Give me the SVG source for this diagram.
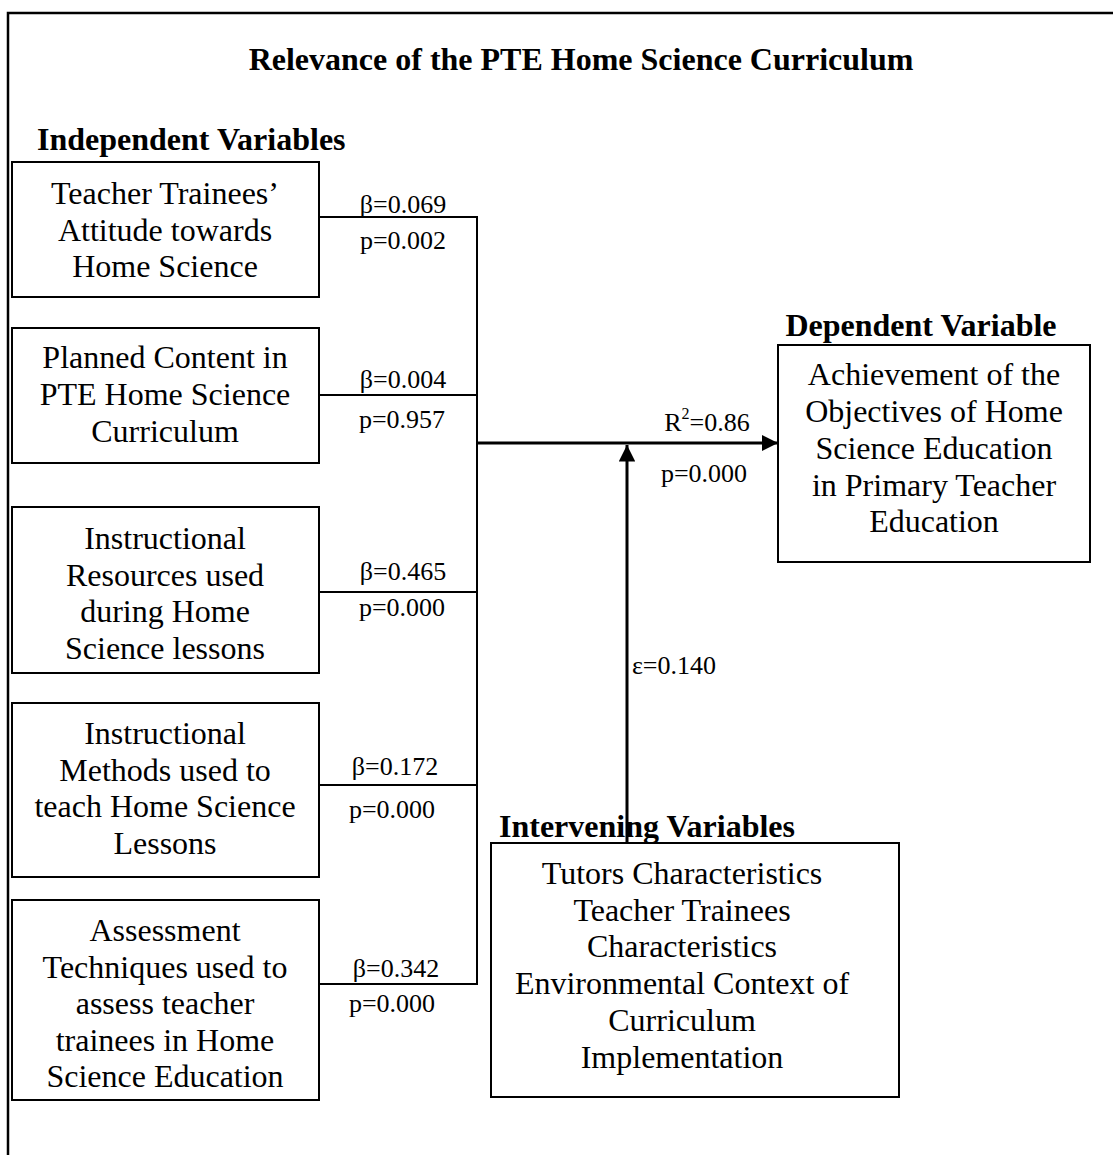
<svg xmlns="http://www.w3.org/2000/svg" width="1113" height="1155" viewBox="0 0 1113 1155">
<defs>
<style>
.box{fill:#fff;stroke:#000;stroke-width:2}
.t{font-family:"Liberation Serif","Times New Roman",serif;font-size:32px;fill:#000;text-anchor:middle}
.h{font-family:"Liberation Serif","Times New Roman",serif;font-size:32px;font-weight:bold;fill:#000}
.l{font-family:"Liberation Serif","Times New Roman",serif;font-size:26px;fill:#000;text-anchor:middle}
.c{fill:none;stroke:#000;stroke-width:2}
.a{fill:none;stroke:#000;stroke-width:3}
</style>
<marker id="arr" viewBox="0 0 10 10" refX="10" refY="5" markerWidth="5.5" markerHeight="5.5" orient="auto" markerUnits="strokeWidth">
<path d="M0,0 L10,5 L0,10 z" fill="#000"/>
</marker>
</defs>
<rect width="1113" height="1155" fill="#fff"/>
<g id="frame">
<polyline points="8,1155 8,13 1113,13" fill="none" stroke="#000" stroke-width="2.5"/>
</g>
<text class="h" x="581" y="70" text-anchor="middle">Relevance of the PTE Home Science Curriculum</text>
<text class="h" x="37" y="150">Independent Variables</text>
<text class="h" x="921" y="336" text-anchor="middle">Dependent Variable</text>

<g id="connectors">
<line class="c" x1="319" y1="217" x2="478" y2="217"/>
<line class="c" x1="319" y1="395" x2="478" y2="395"/>
<line class="c" x1="319" y1="592" x2="478" y2="592"/>
<line class="c" x1="319" y1="785" x2="478" y2="785"/>
<line class="c" x1="319" y1="984" x2="478" y2="984"/>
<line class="c" x1="477" y1="216" x2="477" y2="985"/>
<line class="a" x1="477" y1="443" x2="778" y2="443" marker-end="url(#arr)"/>
<line class="a" x1="627" y1="843" x2="627" y2="445" marker-end="url(#arr)"/>
<text class="l" x="403" y="213">β=0.069</text>
<text class="l" x="403" y="249">p=0.002</text>
<text class="l" x="403" y="388">β=0.004</text>
<text class="l" x="402" y="428">p=0.957</text>
<text class="l" x="403" y="580">β=0.465</text>
<text class="l" x="402" y="616">p=0.000</text>
<text class="l" x="395" y="775">β=0.172</text>
<text class="l" x="392" y="818">p=0.000</text>
<text class="l" x="396" y="977">β=0.342</text>
<text class="l" x="392" y="1012">p=0.000</text>
<text class="l" x="707" y="431">R<tspan font-size="16" dy="-12">2</tspan><tspan dy="12">=0.86</tspan></text>
<text class="l" x="704" y="482">p=0.000</text>
<text class="l" x="674" y="674">ε=0.140</text>
</g>

<g id="n1">
<rect class="box" x="12" y="162" width="307" height="135"/>
<text class="t" x="165" y="204">Teacher Trainees’</text>
<text class="t" x="165" y="241">Attitude towards</text>
<text class="t" x="165" y="277">Home Science</text>
</g>
<g id="n2">
<rect class="box" x="12" y="328" width="307" height="135"/>
<text class="t" x="165" y="368">Planned Content in</text>
<text class="t" x="165" y="405">PTE Home Science</text>
<text class="t" x="165" y="442">Curriculum</text>
</g>
<g id="n3">
<rect class="box" x="12" y="507" width="307" height="166"/>
<text class="t" x="165" y="549">Instructional</text>
<text class="t" x="165" y="586">Resources used</text>
<text class="t" x="165" y="622">during Home</text>
<text class="t" x="165" y="659">Science lessons</text>
</g>
<g id="n4">
<rect class="box" x="12" y="703" width="307" height="174"/>
<text class="t" x="165" y="744">Instructional</text>
<text class="t" x="165" y="781">Methods used to</text>
<text class="t" x="165" y="817">teach Home Science</text>
<text class="t" x="165" y="854">Lessons</text>
</g>
<g id="n5">
<rect class="box" x="12" y="900" width="307" height="200"/>
<text class="t" x="165" y="941">Assessment</text>
<text class="t" x="165" y="978">Techniques used to</text>
<text class="t" x="165" y="1014">assess teacher</text>
<text class="t" x="165" y="1051">trainees in Home</text>
<text class="t" x="165" y="1087">Science Education</text>
</g>
<g id="dep">
<rect class="box" x="778" y="345" width="312" height="217"/>
<text class="t" x="934" y="385">Achievement of the</text>
<text class="t" x="934" y="422">Objectives of Home</text>
<text class="t" x="934" y="459">Science Education</text>
<text class="t" x="934" y="496">in Primary Teacher</text>
<text class="t" x="934" y="532">Education</text>
</g>
<g id="int">
<rect class="box" x="491" y="843" width="408" height="254"/>
<text class="t" x="682" y="884">Tutors Characteristics</text>
<text class="t" x="682" y="921">Teacher Trainees</text>
<text class="t" x="682" y="957">Characteristics</text>
<text class="t" x="682" y="994">Environmental Context of</text>
<text class="t" x="682" y="1031">Curriculum</text>
<text class="t" x="682" y="1068">Implementation</text>
</g>
<text class="h" x="647" y="837" text-anchor="middle">Intervening Variables</text>
</svg>
